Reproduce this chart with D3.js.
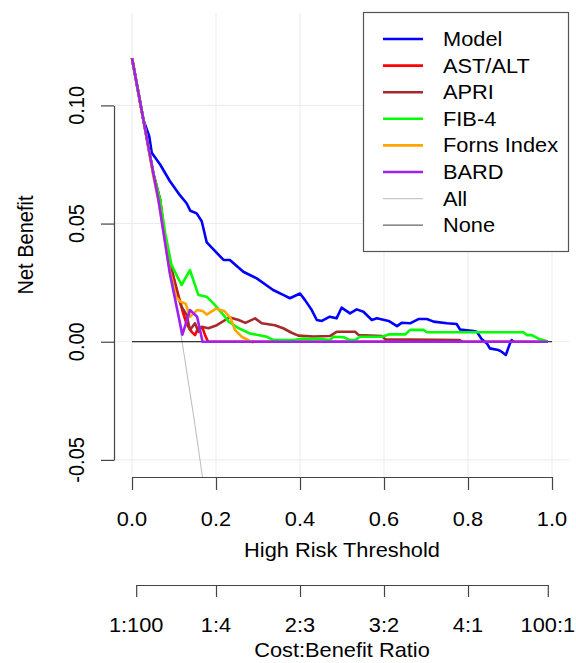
<!DOCTYPE html>
<html lang="en">
<head>
<meta charset="utf-8" />
<title>Decision Curve</title>
<script src="https://cdn.jsdelivr.net/npm/d3@7"></script>
<style>
  body { margin: 0; background: #fff; }
  svg { display: block; }
  text { font-family: "Liberation Sans", Arial, sans-serif; fill: #000; }
</style>
</head>
<body>
<div id="chart"></div>
<script>
// tick values and labels
const xTicks = [0, 0.2, 0.4, 0.6, 0.8, 1.0];
const yTicks = [-0.05, 0, 0.05, 0.10];
const cbTicks = [0.01, 0.2, 0.4, 0.6, 0.8, 0.99];
const cbLabels = ["1:100", "1:4", "2:3", "3:2", "4:1", "100:1"];

// [threshold, net benefit]
const model = [[0,0.12],[0.027,0.094],[0.041,0.087],[0.047,0.080],[0.067,0.075],[0.090,0.068],[0.114,0.062],[0.130,0.0586],[0.139,0.0554],[0.154,0.0543],[0.166,0.051],[0.178,0.042],[0.218,0.0346],[0.233,0.0346],[0.265,0.0296],[0.297,0.0268],[0.336,0.0219],[0.360,0.0198],[0.376,0.0184],[0.400,0.0204],[0.412,0.0176],[0.428,0.0134],[0.440,0.0092],[0.452,0.0088],[0.471,0.0106],[0.487,0.0099],[0.499,0.0144],[0.519,0.012],[0.535,0.0137],[0.551,0.0127],[0.571,0.0092],[0.583,0.0099],[0.611,0.0088],[0.631,0.0066],[0.642,0.008],[0.662,0.0078],[0.682,0.0096],[0.702,0.0096],[0.718,0.0085],[0.750,0.0078],[0.773,0.0075],[0.781,0.0052],[0.813,0.0045],[0.821,0.0042],[0.833,0.001],[0.845,-0.0007],[0.852,-0.0028],[0.872,-0.0035],[0.880,-0.0042],[0.890,-0.0056],[0.900,-0.0007],[0.904,0.0007],[0.908,0]];
const astAlt = [[0,0.12],[0.027,0.094],[0.051,0.071],[0.067,0.060],[0.079,0.043],[0.095,0.030],[0.110,0.020],[0.122,0.012],[0.130,0.0075],[0.142,0.0042],[0.150,0.0028],[0.158,0.006],[0.168,0.0058],[0.174,0.0028],[0.181,0],[0.99,0]];
const apri = [[0,0.12],[0.027,0.094],[0.051,0.071],[0.067,0.060],[0.079,0.043],[0.095,0.030],[0.110,0.019],[0.118,0.0148],[0.130,0.0113],[0.138,0.005],[0.150,0.0078],[0.158,0.0042],[0.166,0.0063],[0.182,0.0057],[0.202,0.007],[0.222,0.0092],[0.233,0.0103],[0.254,0.0092],[0.270,0.008],[0.293,0.0099],[0.309,0.0078],[0.340,0.007],[0.360,0.0057],[0.380,0.0038],[0.396,0.0026],[0.432,0.0022],[0.471,0.0024],[0.487,0.0042],[0.531,0.0042],[0.540,0.0028],[0.595,0.0024],[0.603,0.001],[0.781,0.0007],[0.785,0]];
const fib4 = [[0,0.12],[0.027,0.094],[0.051,0.071],[0.067,0.060],[0.079,0.046],[0.094,0.0325],[0.118,0.024],[0.138,0.0303],[0.158,0.0198],[0.178,0.019],[0.194,0.0162],[0.218,0.0113],[0.230,0.0085],[0.254,0.0057],[0.281,0.0035],[0.321,0.0021],[0.337,0.0007],[0.385,0.0007],[0.409,0.0014],[0.424,0.001],[0.440,0.0014],[0.471,0.0007],[0.480,0.0021],[0.504,0.0019],[0.519,0.0007],[0.531,0.0007],[0.543,0.0021],[0.595,0.0021],[0.611,0.0031],[0.651,0.0031],[0.662,0.005],[0.694,0.005],[0.702,0.004],[0.932,0.004],[0.940,0.0028],[0.952,0.0028],[0.971,0.001],[0.987,0.0003],[0.99,0]];
const forns = [[0,0.12],[0.027,0.094],[0.051,0.070],[0.065,0.058],[0.090,0.030],[0.105,0.019],[0.115,0.017],[0.128,0.016],[0.138,0.0105],[0.155,0.0134],[0.168,0.013],[0.178,0.0115],[0.200,0.014],[0.220,0.013],[0.235,0.0099],[0.245,0.005],[0.262,0.002],[0.290,-0.0005]];
const bard = [[0,0.12],[0.027,0.094],[0.051,0.071],[0.063,0.060],[0.090,0.029],[0.106,0.015],[0.120,0.003],[0.138,0.0134],[0.155,0.0106],[0.168,0],[0.99,0]];
const treatAll = [[0,0.12],[0.05,0.0737],[0.10,0.0222],[0.15,-0.0353],[0.17,-0.060]];
const treatNone = [[0,0],[1,0]];

const seriesNames = ["Model", "AST/ALT", "APRI", "FIB-4", "Forns Index", "BARD", "All", "None"];
const seriesColors = ["#0000ff", "#ff0000", "#a52a2a", "#00ff00", "#ffa500", "#a020f0", "#c8c8c8", "#666666"];

const W = 576, H = 663;
const fs = 20, sx = 1.09;

const svg = d3.select("#chart").append("svg")
  .attr("width", W).attr("height", H);

const x = d3.scaleLinear().domain([0, 1]).range([132, 552]);
const y = d3.scaleLinear().domain([-0.05, 0.10]).range([459.9, 105.4]);
const plot = { left: 115, right: 569, top: 13, bottom: 477 };

// text helper: R output looks a bit wider than Arial
function label(px, py, str, rot, anchor) {
  svg.append("text")
    .attr("transform", `translate(${px},${py}) scale(${sx},1)` + (rot ? ` rotate(${rot})` : ""))
    .attr("text-anchor", anchor || "middle")
    .style("font-size", fs + "px")
    .text(str);
}

// grid
const grid = svg.append("g").attr("stroke", "#ebebeb").attr("stroke-width", 1);
grid.selectAll(".gx").data(xTicks).enter().append("line")
  .attr("x1", d => x(d)).attr("x2", d => x(d))
  .attr("y1", plot.top).attr("y2", plot.bottom);
grid.selectAll(".gy").data(yTicks).enter().append("line")
  .attr("x1", plot.left).attr("x2", plot.right)
  .attr("y1", d => y(d)).attr("y2", d => y(d));

svg.append("clipPath").attr("id", "clip").append("rect")
  .attr("x", plot.left).attr("y", plot.top)
  .attr("width", plot.right - plot.left).attr("height", plot.bottom - plot.top);

const line = d3.line().x(d => x(d[0])).y(d => y(d[1]));
const lines = svg.append("g").attr("clip-path", "url(#clip)").attr("fill", "none");

lines.append("path").datum(treatAll).attr("d", line)
  .attr("stroke", "#bbbbbb").attr("stroke-width", 1);
lines.append("path").datum(treatNone).attr("d", line)
  .attr("stroke", "#000").attr("stroke-width", 1);

[model, astAlt, apri, fib4, forns, bard].forEach((s, i) => {
  lines.append("path").datum(s).attr("d", line)
    .attr("stroke", seriesColors[i]).attr("stroke-width", 2.6)
    .attr("stroke-linejoin", "round");
});

// axes
const axisColor = "#444";
const xAxis = svg.append("g").attr("transform", `translate(0,${plot.bottom})`)
  .call(d3.axisBottom(x).tickValues(xTicks).tickSize(13).tickSizeOuter(0).tickFormat(""));
const yAxis = svg.append("g").attr("transform", `translate(114,0)`)
  .call(d3.axisLeft(y).tickValues(yTicks).tickSize(13).tickSizeOuter(0).tickFormat(""));
const x2 = d3.scaleLinear().domain([0.01, 0.99]).range([x(0.01), x(0.99)]);
const cbAxis = svg.append("g").attr("transform", `translate(0,585)`)
  .call(d3.axisBottom(x2).tickValues(cbTicks).tickSize(12).tickSizeOuter(0).tickFormat(""));
[xAxis, yAxis, cbAxis].forEach(a => {
  a.selectAll("path, line").attr("stroke", axisColor).attr("stroke-width", 1.2);
});

xTicks.forEach(d => label(x(d), 526, d.toFixed(1)));
yTicks.forEach(d => label(84, y(d), d.toFixed(2), -90));
cbTicks.forEach((d, i) => label(x2(d), 632, cbLabels[i]));

label(342, 557, "High Risk Threshold");
label(342, 657, "Cost:Benefit Ratio");
label(33, 245, "Net Benefit", -90);

// legend
const lg = svg.append("g");
lg.append("rect").attr("x", 363.5).attr("y", 12.5).attr("width", 205).attr("height", 239)
  .attr("fill", "#fff").attr("stroke", "#555").attr("stroke-width", 1.2);
seriesNames.forEach((n, i) => {
  const ly = 39 + i * 26.6;
  lg.append("line").attr("x1", 383).attr("x2", 423).attr("y1", ly).attr("y2", ly)
    .attr("stroke", seriesColors[i]).attr("stroke-width", i < 6 ? 2.6 : 1.2);
  svg.append("text")
    .attr("transform", `translate(443,${ly + 7}) scale(${sx},1)`)
    .style("font-size", fs + "px")
    .text(n);
});
</script>
</body>
</html>
